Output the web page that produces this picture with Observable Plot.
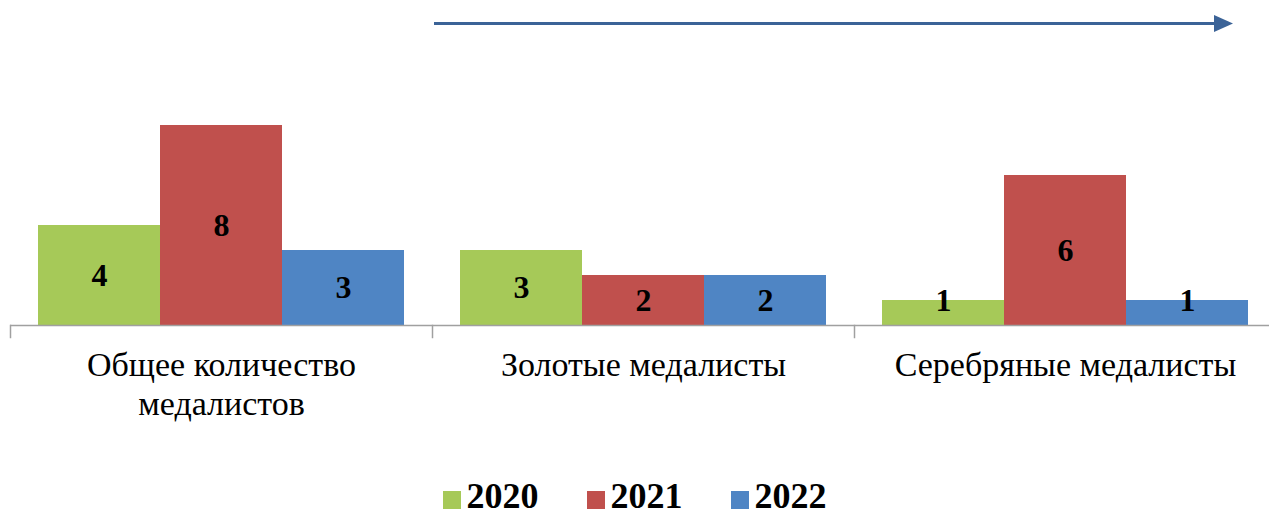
<!DOCTYPE html>
<html>
<head>
<meta charset="utf-8">
<script src="https://cdn.jsdelivr.net/npm/d3@7"></script>
<script src="https://cdn.jsdelivr.net/npm/@observablehq/plot@0.6"></script>
<style>
  html, body { margin: 0; padding: 0; background: #fff; overflow: hidden; }
  #wrap { position: relative; width: 1269px; height: 514px; }
  #arrow { position: absolute; left: 0; top: 0; }
  #legend { position: absolute; left: 0; top: 478px; width: 1269px; display: flex; justify-content: center; align-items: center;
    font-family: "Liberation Serif", "Times New Roman", serif; font-weight: bold; font-size: 36px; line-height: 36px; }
  .item { display: flex; align-items: center; margin: 0 24px; }
  .sw { width: 18px; height: 18px; margin-right: 6px; margin-top: 8px; }
</style>
</head>
<body>
<div id="wrap">
  <div id="chart"></div>
  <svg id="arrow" width="1269" height="45">
    <line x1="434" y1="23.5" x2="1216" y2="23.5" stroke="#3b6397" stroke-width="3"></line>
    <polygon points="1214,15 1233,23.5 1214,32" fill="#3b6397"></polygon>
  </svg>
  <div id="legend"></div>
</div>
<script>
const categories = ["Общее количество\nмедалистов", "Золотые медалисты", "Серебряные медалисты"];
const years = ["2020", "2021", "2022"];
const values2020 = [4, 3, 1];
const values2021 = [8, 2, 6];
const values2022 = [3, 2, 1];
const colors = ["#a6c958", "#c0504d", "#4f85c4"];

const series = [values2020, values2021, values2022];
const data = categories.flatMap((c, i) => years.map((y, j) => ({category: c, year: y, value: series[j][i]})));

const chart = Plot.plot({
  width: 1269,
  height: 470,
  marginLeft: 10,
  marginRight: -7,
  marginTop: 25,
  marginBottom: 145,
  style: {fontFamily: "'Liberation Serif', 'Times New Roman', serif", background: "white", color: "black"},
  fx: {domain: categories, padding: 0, label: null},
  x: {domain: years, paddingInner: 0, paddingOuter: 0.225, axis: null},
  y: {domain: [0, 12], axis: null},
  color: {domain: years, range: colors},
  marks: [
    Plot.barY(data, {fx: "category", x: "year", y: "value", fill: "year"}),
    Plot.text(data, {fx: "category", x: "year", y: d => Math.max(d.value / 2, 1), text: d => String(d.value), fontSize: 32, fontWeight: "bold", fill: "black"}),
    Plot.ruleY([0], {stroke: "#a0a0a0", strokeWidth: 1.5}),
    Plot.frame({anchor: "left", stroke: "#a0a0a0", strokeWidth: 1.5, insetTop: 300, insetBottom: -12}),
    Plot.axisFx({anchor: "bottom", tickSize: 0, tickPadding: 23, fontSize: 34, lineHeight: 1.15, label: null, fill: "black"})
  ]
});
document.getElementById("chart").appendChild(chart);

const legend = document.getElementById("legend");
years.forEach((y, i) => {
  const item = document.createElement("div");
  item.className = "item";
  const sw = document.createElement("div");
  sw.className = "sw";
  sw.style.background = colors[i];
  const t = document.createElement("span");
  t.textContent = y;
  item.appendChild(sw);
  item.appendChild(t);
  legend.appendChild(item);
});
</script>
</body>
</html>
